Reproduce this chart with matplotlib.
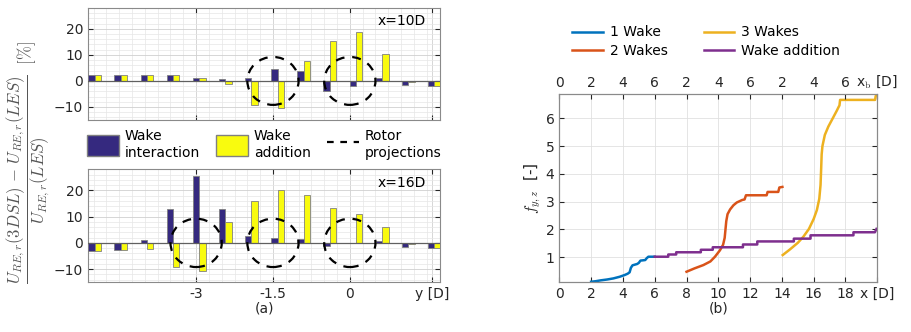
import matplotlib.pyplot as plt
import numpy as np
from matplotlib.patches import Ellipse, Patch
from matplotlib.lines import Line2D
from matplotlib.ticker import MultipleLocator

plt.rcParams['mathtext.fontset'] = 'cm'
plt.rcParams['font.size'] = 10

# ---- datos panel (a) ----
y_pos = [-4.98, -4.47, -3.96, -3.45, -2.94, -2.43, -1.92, -1.41, -0.90, -0.39, 0.12, 0.63, 1.14, 1.65]
inter_10D = [2.2, 2.2, 2.2, 2.2, 1.3, 0.8, 1.2, 4.5, 3.8, -4.0, -2.0, 1.3, -1.5, -2.0]
addit_10D = [2.2, 2.2, 2.2, 2.2, 1.3, -1.0, -9.3, -10.5, 7.5, 15.3, 18.8, 10.5, -0.3, -2.0]
inter_16D = [-3.0, -2.8, 1.0, 13.0, 25.3, 13.0, 2.5, 1.8, 1.5, -1.0, 0.0, 0.7, -1.5, -1.8]
addit_16D = [-3.0, -2.8, -2.3, -9.3, -10.8, 8.0, 15.8, 20.3, 18.3, 13.3, 11.0, 6.0, -0.5, -1.8]
rotors_10D = [-1.5, 0.0]
rotors_16D = [-3.0, -1.5, 0.0]

# ---- datos panel (b) ----
x_1w = [2.0, 2.3, 2.6, 3.0, 3.4, 3.8, 4.1, 4.3, 4.42, 4.5, 4.6, 4.9, 5.0, 5.1, 5.4, 5.5, 5.6, 6.0]
f_1w = [0.12, 0.14, 0.17, 0.2, 0.24, 0.3, 0.36, 0.41, 0.46, 0.62, 0.71, 0.76, 0.8, 0.88, 0.9, 0.97, 1.02, 1.02]
x_2w = [8.0, 8.5, 9.06, 9.5, 9.79, 10.1, 10.3, 10.4, 10.45, 10.5, 10.58, 10.74, 10.95, 11.16, 11.5, 11.65, 11.74, 13.04, 13.1, 13.77, 13.84, 14.03]
f_2w = [0.48, 0.6, 0.72, 0.85, 1.02, 1.25, 1.45, 1.7, 2.0, 2.3, 2.55, 2.72, 2.87, 2.97, 3.06, 3.08, 3.23, 3.23, 3.35, 3.35, 3.51, 3.53]
x_3w = [14.05, 14.5, 15.0, 15.35, 15.7, 16.0, 16.2, 16.35, 16.43, 16.47, 16.5, 16.55, 16.7, 16.92, 17.2, 17.45, 17.58, 17.62, 17.66, 19.86, 19.9, 20.0]
f_3w = [1.08, 1.28, 1.52, 1.74, 2.02, 2.38, 2.7, 3.1, 3.6, 4.2, 4.7, 5.0, 5.4, 5.7, 6.0, 6.27, 6.42, 6.46, 6.66, 6.66, 6.8, 6.86]
x_add = [6.0, 6.85, 6.85, 7.35, 7.35, 8.9, 8.9, 9.65, 9.65, 11.55, 11.55, 12.45, 12.45, 14.75, 14.75, 15.8, 15.8, 18.5, 18.5, 19.85, 19.95]
f_add = [1.02, 1.02, 1.1, 1.1, 1.18, 1.18, 1.27, 1.27, 1.36, 1.36, 1.46, 1.46, 1.57, 1.57, 1.67, 1.67, 1.79, 1.79, 1.9, 1.9, 2.02]

c_inter = '#35297F'
c_addit = '#F9FB0E'
c_lines = ['#0072BD', '#D95319', '#EDB120', '#7E2F8E']
txt_col = '#262626'

fig = plt.figure(figsize=(9.11, 3.32), dpi=100)
ax1 = fig.add_axes([0.0966, 0.6386, 0.3864, 0.3373])
ax2 = fig.add_axes([0.0966, 0.1497, 0.3864, 0.3404])

yp = np.array(y_pos)
w = 0.125
for ax, bi, ba, rot, lab in [(ax1, inter_10D, addit_10D, rotors_10D, 'x=10D'),
                             (ax2, inter_16D, addit_16D, rotors_16D, 'x=16D')]:
    ax.bar(yp - w / 2, bi, width=w, color=c_inter, edgecolor='#808080', linewidth=0.6, zorder=3)
    ax.bar(yp + w / 2, ba, width=w, color=c_addit, edgecolor='#808080', linewidth=0.6, zorder=3)
    ax.axhline(0, color='#606060', linewidth=0.9, zorder=4)
    for r in rot:
        ax.add_patch(Ellipse((r, 0), 1.0, 18.4, fill=False, edgecolor='k',
                             linestyle=(0, (4, 3.5)), linewidth=1.6, zorder=5))
    ax.set_xlim(-5.11, 1.76)
    ax.set_ylim(-15, 28)
    ax.set_yticks([-10, 0, 10, 20])
    ax.set_xticks([-3, -1.5, 0, 1.6])
    ax.xaxis.set_minor_locator(MultipleLocator(0.25))
    ax.yaxis.set_minor_locator(MultipleLocator(2))
    ax.grid(True, which='major', color='#d0d0d0', linewidth=0.6, zorder=0)
    ax.grid(True, which='minor', color='#e6e6e6', linewidth=0.5, zorder=0)
    ax.set_axisbelow(True)
    ax.tick_params(which='both', direction='in', top=True, right=True, colors=txt_col, labelsize=10)
    ax.tick_params(which='minor', length=0)
    for s in ax.spines.values():
        s.set_color('#8a8a8a')
    ax.text(0.96, 0.88, lab, transform=ax.transAxes, ha='right', va='center', fontsize=10, color='k')

ax1.set_xticklabels([])
ax2.set_xticklabels(['-3', '-1.5', '0', 'y [D]'])
ax2.set_xlabel('(a)', fontsize=10, color=txt_col, labelpad=0)

fig.text(0.031, 0.51, r'$\dfrac{U_{RE,r}(3DSL)\,-\,U_{RE,r}(LES)}{U_{RE,r}(LES)}\ \ [\%]$',
         rotation=90, ha='center', va='center', fontsize=12, color='#555555')

handles = [Patch(facecolor=c_inter, edgecolor='#808080'),
           Patch(facecolor=c_addit, edgecolor='#808080'),
           Line2D([], [], color='k', linestyle=(0, (3, 3)), linewidth=1.6)]
fig.legend(handles, ['Wake\ninteraction', 'Wake\naddition', 'Rotor\nprojections'],
           ncol=3, loc='center', bbox_to_anchor=(0.29, 0.565), frameon=False,
           handlelength=2.3, handleheight=2.0, columnspacing=1.2, handletextpad=0.4,
           fontsize=10, labelspacing=0.2)

# ---- panel (b) ----
ax3 = fig.add_axes([0.614, 0.1497, 0.349, 0.567])
ax3.plot(x_1w, f_1w, color=c_lines[0], lw=1.8, label='1 Wake')
ax3.plot(x_2w, f_2w, color=c_lines[1], lw=1.8, label='2 Wakes')
ax3.plot(x_3w, f_3w, color=c_lines[2], lw=1.8, label='3 Wakes')
ax3.plot(x_add, f_add, color=c_lines[3], lw=1.8, label='Wake addition')
ax3.set_xlim(0, 20)
ax3.set_ylim(0.1, 6.87)
ax3.set_xticks(range(0, 21, 2))
ax3.set_xticklabels([str(v) for v in range(0, 19, 2)] + ['x [D]'])
ax3.set_yticks([1, 2, 3, 4, 5, 6])
ax3.grid(True, color='#e0e0e0', linewidth=0.6)
ax3.tick_params(direction='in', right=True, colors=txt_col, labelsize=10)
for s in ax3.spines.values():
    s.set_color('#8a8a8a')
ax3.set_ylabel(r'$f_{y,z}$  [-]', fontsize=11, color=txt_col, labelpad=2)
ax3.set_xlabel('(b)', fontsize=10, color=txt_col, labelpad=0)

top = ax3.twiny()
top.set_xlim(0, 20)
top.set_xticks(range(0, 21, 2))
top.set_xticklabels(['0', '2', '4', '6', '2', '4', '6', '2', '4', '6', r'x$_\mathrm{b}$ [D]'])
top.tick_params(direction='in', colors=txt_col, labelsize=10, pad=3)
for s in top.spines.values():
    s.set_color('#8a8a8a')

h, l = ax3.get_legend_handles_labels()
fig.legend(h, l, ncol=2, loc='center', bbox_to_anchor=(0.775, 0.875), frameon=False,
           fontsize=10, handlelength=2.2, columnspacing=2.6, labelspacing=0.3, handletextpad=0.5)

plt.savefig('out.png', dpi=100)
plt.close()
